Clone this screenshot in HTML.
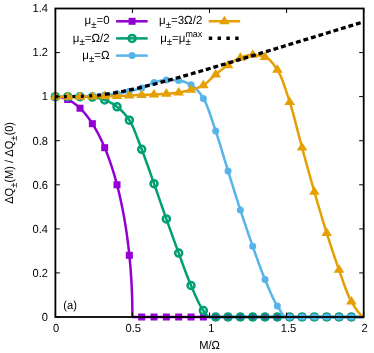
<!DOCTYPE html>
<html><head><meta charset="utf-8"><title>chart</title>
<style>html,body{margin:0;padding:0;background:#fff;}body{width:374px;height:353px;overflow:hidden;position:relative;font-family:"Liberation Sans",sans-serif;}</style></head>
<body>
<svg width="374" height="353" viewBox="0 0 374 353" style="position:absolute;left:0;top:0;will-change:transform;text-rendering:geometricPrecision">
<rect width="374" height="353" fill="#fff"/>
<g fill="none" stroke-linejoin="round" stroke-linecap="butt" stroke-width="2.50">
<path d="M55.35,96.64 L55.61,96.64 L55.87,96.65 L56.12,96.65 L56.38,96.66 L56.64,96.67 L56.90,96.69 L57.15,96.70 L57.41,96.72 L57.67,96.74 L57.93,96.77 L58.19,96.79 L58.44,96.82 L58.70,96.85 L58.96,96.88 L59.22,96.92 L59.48,96.96 L59.73,97.00 L59.99,97.04 L60.25,97.09 L60.51,97.14 L60.76,97.19 L61.02,97.24 L61.28,97.30 L61.54,97.35 L61.80,97.41 L62.05,97.48 L62.31,97.54 L62.57,97.61 L62.83,97.68 L63.08,97.75 L63.34,97.83 L63.60,97.91 L63.86,97.99 L64.12,98.07 L64.37,98.16 L64.63,98.25 L64.89,98.34 L65.15,98.43 L65.40,98.53 L65.66,98.62 L65.92,98.72 L66.18,98.83 L66.44,98.93 L66.69,99.04 L66.95,99.15 L67.21,99.27 L67.47,99.38 L67.73,99.50 L67.98,99.62 L68.24,99.75 L68.50,99.87 L68.76,100.00 L69.01,100.13 L69.27,100.27 L69.53,100.40 L69.79,100.54 L70.05,100.68 L70.30,100.83 L70.56,100.98 L70.82,101.13 L71.08,101.28 L71.33,101.43 L71.59,101.59 L71.85,101.75 L72.11,101.91 L72.37,102.08 L72.62,102.25 L72.88,102.42 L73.14,102.59 L73.40,102.77 L73.66,102.95 L73.91,103.13 L74.17,103.31 L74.43,103.50 L74.69,103.69 L74.94,103.88 L75.20,104.08 L75.46,104.27 L75.72,104.47 L75.98,104.68 L76.23,104.88 L76.49,105.09 L76.75,105.30 L77.01,105.52 L77.26,105.73 L77.52,105.95 L77.78,106.18 L78.04,106.40 L78.30,106.63 L78.55,106.86 L78.81,107.10 L79.07,107.33 L79.33,107.57 L79.58,107.82 L79.84,108.06 L80.10,108.31 L80.36,108.56 L80.62,108.82 L80.87,109.07 L81.13,109.33 L81.39,109.60 L81.65,109.86 L81.91,110.13 L82.16,110.40 L82.42,110.68 L82.68,110.95 L82.94,111.24 L83.19,111.52 L83.45,111.81 L83.71,112.10 L83.97,112.39 L84.23,112.69 L84.48,112.99 L84.74,113.29 L85.00,113.59 L85.26,113.90 L85.51,114.21 L85.77,114.53 L86.03,114.85 L86.29,115.17 L86.55,115.49 L86.80,115.82 L87.06,116.15 L87.32,116.49 L87.58,116.82 L87.84,117.16 L88.09,117.51 L88.35,117.86 L88.61,118.21 L88.87,118.56 L89.12,118.92 L89.38,119.28 L89.64,119.64 L89.90,120.01 L90.16,120.38 L90.41,120.76 L90.67,121.14 L90.93,121.52 L91.19,121.90 L91.44,122.29 L91.70,122.68 L91.96,123.08 L92.22,123.48 L92.48,123.88 L92.73,124.29 L92.99,124.70 L93.25,125.11 L93.51,125.53 L93.76,125.95 L94.02,126.38 L94.28,126.81 L94.54,127.24 L94.80,127.68 L95.05,128.12 L95.31,128.56 L95.57,129.01 L95.83,129.46 L96.09,129.92 L96.34,130.38 L96.60,130.85 L96.86,131.32 L97.12,131.79 L97.37,132.27 L97.63,132.75 L97.89,133.23 L98.15,133.72 L98.41,134.22 L98.66,134.72 L98.92,135.22 L99.18,135.73 L99.44,136.24 L99.69,136.75 L99.95,137.27 L100.21,137.80 L100.47,138.33 L100.73,138.86 L100.98,139.40 L101.24,139.95 L101.50,140.49 L101.76,141.05 L102.02,141.60 L102.27,142.17 L102.53,142.74 L102.79,143.31 L103.05,143.89 L103.30,144.47 L103.56,145.06 L103.82,145.65 L104.08,146.25 L104.34,146.85 L104.59,147.46 L104.85,148.08 L105.11,148.70 L105.37,149.32 L105.62,149.95 L105.88,150.59 L106.14,151.23 L106.40,151.88 L106.66,152.54 L106.91,153.20 L107.17,153.86 L107.43,154.53 L107.69,155.21 L107.94,155.90 L108.20,156.59 L108.46,157.29 L108.72,157.99 L108.98,158.70 L109.23,159.42 L109.49,160.14 L109.75,160.87 L110.01,161.61 L110.27,162.35 L110.52,163.11 L110.78,163.86 L111.04,164.63 L111.30,165.40 L111.55,166.19 L111.81,166.97 L112.07,167.77 L112.33,168.58 L112.59,169.39 L112.84,170.21 L113.10,171.04 L113.36,171.88 L113.62,172.72 L113.87,173.58 L114.13,174.44 L114.39,175.32 L114.65,176.20 L114.91,177.09 L115.16,177.99 L115.42,178.90 L115.68,179.82 L115.94,180.76 L116.19,181.70 L116.45,182.65 L116.71,183.61 L116.97,184.59 L117.23,185.58 L117.48,186.57 L117.74,187.58 L118.00,188.60 L118.26,189.64 L118.52,190.69 L118.77,191.75 L119.03,192.82 L119.29,193.91 L119.55,195.01 L119.80,196.12 L120.06,197.25 L120.32,198.40 L120.58,199.56 L120.84,200.74 L121.09,201.94 L121.35,203.15 L121.61,204.38 L121.87,205.63 L122.12,206.90 L122.38,208.18 L122.64,209.49 L122.90,210.82 L123.16,212.17 L123.41,213.55 L123.67,214.94 L123.93,216.37 L124.19,217.82 L124.45,219.29 L124.70,220.80 L124.96,222.33 L125.22,223.90 L125.48,225.49 L125.73,227.12 L125.99,228.79 L126.25,230.50 L126.51,232.25 L126.77,234.04 L127.02,235.88 L127.28,237.76 L127.54,239.70 L127.80,241.70 L128.05,243.76 L128.31,245.88 L128.57,248.08 L128.83,250.36 L129.09,252.73 L129.34,255.20 L129.60,257.78 L129.86,260.49 L130.12,263.34 L130.37,266.37 L130.63,269.60 L130.89,273.08 L131.15,276.87 L131.41,281.08 L131.66,285.86 L131.92,291.56 L132.18,298.99 L132.44,317.00 L363.70,317.00" stroke="#9400d3"/>
</g>
<rect x="51.85" y="93.14" width="7.00" height="7.00" fill="#9400d3"/><rect x="64.18" y="95.98" width="7.00" height="7.00" fill="#9400d3"/><rect x="76.52" y="104.73" width="7.00" height="7.00" fill="#9400d3"/><rect x="88.85" y="120.19" width="7.00" height="7.00" fill="#9400d3"/><rect x="101.19" y="144.18" width="7.00" height="7.00" fill="#9400d3"/><rect x="113.52" y="181.29" width="7.00" height="7.00" fill="#9400d3"/><rect x="125.85" y="251.80" width="7.00" height="7.00" fill="#9400d3"/><rect x="138.19" y="313.50" width="7.00" height="7.00" fill="#9400d3"/><rect x="150.52" y="313.50" width="7.00" height="7.00" fill="#9400d3"/><rect x="162.86" y="313.50" width="7.00" height="7.00" fill="#9400d3"/><rect x="175.19" y="313.50" width="7.00" height="7.00" fill="#9400d3"/><rect x="187.52" y="313.50" width="7.00" height="7.00" fill="#9400d3"/><rect x="199.86" y="313.50" width="7.00" height="7.00" fill="#9400d3"/><rect x="212.19" y="313.50" width="7.00" height="7.00" fill="#9400d3"/><rect x="224.53" y="313.50" width="7.00" height="7.00" fill="#9400d3"/><rect x="236.86" y="313.50" width="7.00" height="7.00" fill="#9400d3"/><rect x="249.19" y="313.50" width="7.00" height="7.00" fill="#9400d3"/><rect x="261.53" y="313.50" width="7.00" height="7.00" fill="#9400d3"/><rect x="273.86" y="313.50" width="7.00" height="7.00" fill="#9400d3"/><rect x="286.20" y="313.50" width="7.00" height="7.00" fill="#9400d3"/><rect x="298.53" y="313.50" width="7.00" height="7.00" fill="#9400d3"/><rect x="310.86" y="313.50" width="7.00" height="7.00" fill="#9400d3"/><rect x="323.20" y="313.50" width="7.00" height="7.00" fill="#9400d3"/><rect x="335.53" y="313.50" width="7.00" height="7.00" fill="#9400d3"/><rect x="347.87" y="313.50" width="7.00" height="7.00" fill="#9400d3"/>
<path d="M55.35,96.64 L56.12,96.64 L56.89,96.64 L57.66,96.64 L58.43,96.64 L59.20,96.64 L59.98,96.64 L60.75,96.64 L61.52,96.64 L62.29,96.64 L63.06,96.64 L63.83,96.64 L64.60,96.64 L65.37,96.64 L66.14,96.64 L66.91,96.64 L67.68,96.64 L68.45,96.64 L69.23,96.64 L70.00,96.64 L70.77,96.64 L71.54,96.64 L72.31,96.64 L73.08,96.64 L73.85,96.64 L74.62,96.64 L75.39,96.64 L76.16,96.64 L76.93,96.64 L77.71,96.64 L78.48,96.64 L79.25,96.64 L80.02,96.64 L80.79,96.65 L81.56,96.65 L82.33,96.66 L83.10,96.68 L83.87,96.69 L84.64,96.72 L85.41,96.74 L86.19,96.77 L86.96,96.80 L87.73,96.83 L88.50,96.87 L89.27,96.91 L90.04,96.95 L90.81,96.99 L91.58,97.04 L92.35,97.08 L93.12,97.14 L93.89,97.22 L94.66,97.33 L95.44,97.45 L96.21,97.59 L96.98,97.75 L97.75,97.92 L98.52,98.11 L99.29,98.31 L100.06,98.52 L100.83,98.74 L101.60,98.97 L102.37,99.21 L103.14,99.45 L103.92,99.70 L104.69,99.95 L105.46,100.21 L106.23,100.50 L107.00,100.82 L107.77,101.16 L108.54,101.52 L109.31,101.90 L110.08,102.31 L110.85,102.74 L111.62,103.18 L112.39,103.65 L113.17,104.13 L113.94,104.63 L114.71,105.14 L115.48,105.67 L116.25,106.22 L117.02,106.78 L117.79,107.36 L118.56,107.97 L119.33,108.62 L120.10,109.29 L120.87,110.00 L121.65,110.74 L122.42,111.52 L123.19,112.33 L123.96,113.18 L124.73,114.07 L125.50,115.00 L126.27,115.96 L127.04,116.96 L127.81,118.01 L128.58,119.09 L129.35,120.22 L130.12,121.44 L130.90,122.80 L131.67,124.28 L132.44,125.87 L133.21,127.57 L133.98,129.35 L134.75,131.20 L135.52,133.12 L136.29,135.09 L137.06,137.10 L137.83,139.14 L138.60,141.19 L139.38,143.25 L140.15,145.29 L140.92,147.32 L141.69,149.31 L142.46,151.30 L143.23,153.33 L144.00,155.39 L144.77,157.48 L145.54,159.60 L146.31,161.74 L147.08,163.90 L147.85,166.08 L148.63,168.28 L149.40,170.48 L150.17,172.68 L150.94,174.89 L151.71,177.10 L152.48,179.31 L153.25,181.50 L154.02,183.68 L154.79,185.87 L155.56,188.06 L156.33,190.26 L157.11,192.46 L157.88,194.67 L158.65,196.89 L159.42,199.11 L160.19,201.33 L160.96,203.55 L161.73,205.76 L162.50,207.98 L163.27,210.18 L164.04,212.39 L164.81,214.58 L165.59,216.77 L166.36,218.94 L167.13,221.11 L167.90,223.27 L168.67,225.44 L169.44,227.60 L170.21,229.76 L170.98,231.91 L171.75,234.06 L172.52,236.20 L173.29,238.34 L174.06,240.47 L174.84,242.59 L175.61,244.71 L176.38,246.82 L177.15,248.92 L177.92,251.01 L178.69,253.10 L179.46,255.18 L180.23,257.28 L181.00,259.39 L181.77,261.51 L182.54,263.62 L183.32,265.73 L184.09,267.83 L184.86,269.91 L185.63,271.98 L186.40,274.02 L187.17,276.03 L187.94,278.01 L188.71,279.95 L189.48,281.84 L190.25,283.69 L191.02,285.49 L191.79,287.27 L192.57,289.05 L193.34,290.84 L194.11,292.63 L194.88,294.40 L195.65,296.15 L196.42,297.86 L197.19,299.54 L197.96,301.18 L198.73,302.75 L199.50,304.27 L200.27,305.71 L201.05,307.08 L201.82,308.35 L202.59,309.53 L203.36,310.61 L204.13,311.67 L204.90,312.76 L205.67,313.83 L206.44,314.83 L207.21,315.70 L207.98,316.38 L208.75,316.84 L209.52,317.00 L210.30,317.00 L211.07,317.00 L211.84,317.00 L212.61,317.00 L213.38,317.00 L214.15,317.00 L214.92,317.00 L215.69,317.00 L216.46,317.00 L217.23,317.00 L218.00,317.00 L218.78,317.00 L219.55,317.00 L220.32,317.00 L221.09,317.00 L221.86,317.00 L222.63,317.00 L223.40,317.00 L224.17,317.00 L224.94,317.00 L225.71,317.00 L226.48,317.00 L227.26,317.00 L228.03,317.00 L228.80,317.00 L229.57,317.00 L230.34,317.00 L231.11,317.00 L231.88,317.00 L232.65,317.00 L233.42,317.00 L234.19,317.00 L234.96,317.00 L235.73,317.00 L236.51,317.00 L237.28,317.00 L238.05,317.00 L238.82,317.00 L239.59,317.00 L240.36,317.00 L241.13,317.00 L241.90,317.00 L242.67,317.00 L243.44,317.00 L244.21,317.00 L244.99,317.00 L245.76,317.00 L246.53,317.00 L247.30,317.00 L248.07,317.00 L248.84,317.00 L249.61,317.00 L250.38,317.00 L251.15,317.00 L251.92,317.00 L252.69,317.00 L253.46,317.00 L254.24,317.00 L255.01,317.00 L255.78,317.00 L256.55,317.00 L257.32,317.00 L258.09,317.00 L258.86,317.00 L259.63,317.00 L260.40,317.00 L261.17,317.00 L261.94,317.00 L262.72,317.00 L263.49,317.00 L264.26,317.00 L265.03,317.00 L265.80,317.00 L266.57,317.00 L267.34,317.00 L268.11,317.00 L268.88,317.00 L269.65,317.00 L270.42,317.00 L271.19,317.00 L271.97,317.00 L272.74,317.00 L273.51,317.00 L274.28,317.00 L275.05,317.00 L275.82,317.00 L276.59,317.00 L277.36,317.00 L278.13,317.00 L278.90,317.00 L279.67,317.00 L280.45,317.00 L281.22,317.00 L281.99,317.00 L282.76,317.00 L283.53,317.00 L284.30,317.00 L285.07,317.00 L285.84,317.00 L286.61,317.00 L287.38,317.00 L288.15,317.00 L288.93,317.00 L289.70,317.00 L290.47,317.00 L291.24,317.00 L292.01,317.00 L292.78,317.00 L293.55,317.00 L294.32,317.00 L295.09,317.00 L295.86,317.00 L296.63,317.00 L297.40,317.00 L298.18,317.00 L298.95,317.00 L299.72,317.00 L300.49,317.00 L301.26,317.00 L302.03,317.00 L302.80,317.00 L303.57,317.00 L304.34,317.00 L305.11,317.00 L305.88,317.00 L306.66,317.00 L307.43,317.00 L308.20,317.00 L308.97,317.00 L309.74,317.00 L310.51,317.00 L311.28,317.00 L312.05,317.00 L312.82,317.00 L313.59,317.00 L314.36,317.00 L315.13,317.00 L315.91,317.00 L316.68,317.00 L317.45,317.00 L318.22,317.00 L318.99,317.00 L319.76,317.00 L320.53,317.00 L321.30,317.00 L322.07,317.00 L322.84,317.00 L323.61,317.00 L324.39,317.00 L325.16,317.00 L325.93,317.00 L326.70,317.00 L327.47,317.00 L328.24,317.00 L329.01,317.00 L329.78,317.00 L330.55,317.00 L331.32,317.00 L332.09,317.00 L332.87,317.00 L333.64,317.00 L334.41,317.00 L335.18,317.00 L335.95,317.00 L336.72,317.00 L337.49,317.00 L338.26,317.00 L339.03,317.00 L339.80,317.00 L340.57,317.00 L341.34,317.00 L342.12,317.00 L342.89,317.00 L343.66,317.00 L344.43,317.00 L345.20,317.00 L345.97,317.00 L346.74,317.00 L347.51,317.00 L348.28,317.00 L349.05,317.00 L349.82,317.00 L350.60,317.00 L351.37,317.00 L352.14,317.00 L352.91,317.00 L353.68,317.00 L354.45,317.00 L355.22,317.00 L355.99,317.00 L356.76,317.00 L357.53,317.00 L358.30,317.00 L359.07,317.00 L359.85,317.00 L360.62,317.00 L361.39,317.00 L362.16,317.00 L362.93,317.00 L363.70,317.00" fill="none" stroke="#009e73" stroke-width="2.50" stroke-linejoin="round"/>
<circle cx="55.35" cy="96.64" r="3.50" fill="none" stroke="#009e73" stroke-width="2.5"/><circle cx="67.68" cy="96.64" r="3.50" fill="none" stroke="#009e73" stroke-width="2.5"/><circle cx="80.02" cy="96.64" r="3.50" fill="none" stroke="#009e73" stroke-width="2.5"/><circle cx="92.35" cy="97.08" r="3.50" fill="none" stroke="#009e73" stroke-width="2.5"/><circle cx="104.69" cy="99.95" r="3.50" fill="none" stroke="#009e73" stroke-width="2.5"/><circle cx="117.02" cy="106.78" r="3.50" fill="none" stroke="#009e73" stroke-width="2.5"/><circle cx="129.35" cy="120.22" r="3.50" fill="none" stroke="#009e73" stroke-width="2.5"/><circle cx="141.69" cy="149.31" r="3.50" fill="none" stroke="#009e73" stroke-width="2.5"/><circle cx="154.02" cy="183.68" r="3.50" fill="none" stroke="#009e73" stroke-width="2.5"/><circle cx="166.36" cy="218.94" r="3.50" fill="none" stroke="#009e73" stroke-width="2.5"/><circle cx="178.69" cy="253.10" r="3.50" fill="none" stroke="#009e73" stroke-width="2.5"/><circle cx="191.02" cy="285.49" r="3.50" fill="none" stroke="#009e73" stroke-width="2.5"/><circle cx="203.36" cy="310.61" r="3.50" fill="none" stroke="#009e73" stroke-width="2.5"/><circle cx="215.69" cy="317.00" r="3.50" fill="none" stroke="#009e73" stroke-width="2.5"/><circle cx="228.03" cy="317.00" r="3.50" fill="none" stroke="#009e73" stroke-width="2.5"/><circle cx="240.36" cy="317.00" r="3.50" fill="none" stroke="#009e73" stroke-width="2.5"/><circle cx="252.69" cy="317.00" r="3.50" fill="none" stroke="#009e73" stroke-width="2.5"/><circle cx="265.03" cy="317.00" r="3.50" fill="none" stroke="#009e73" stroke-width="2.5"/><circle cx="277.36" cy="317.00" r="3.50" fill="none" stroke="#009e73" stroke-width="2.5"/><circle cx="289.70" cy="317.00" r="3.50" fill="none" stroke="#009e73" stroke-width="2.5"/><circle cx="302.03" cy="317.00" r="3.50" fill="none" stroke="#009e73" stroke-width="2.5"/><circle cx="314.36" cy="317.00" r="3.50" fill="none" stroke="#009e73" stroke-width="2.5"/><circle cx="326.70" cy="317.00" r="3.50" fill="none" stroke="#009e73" stroke-width="2.5"/><circle cx="339.03" cy="317.00" r="3.50" fill="none" stroke="#009e73" stroke-width="2.5"/><circle cx="351.37" cy="317.00" r="3.50" fill="none" stroke="#009e73" stroke-width="2.5"/>
<path d="M55.35,96.64 L56.12,96.64 L56.89,96.64 L57.66,96.64 L58.43,96.64 L59.20,96.64 L59.98,96.64 L60.75,96.64 L61.52,96.64 L62.29,96.64 L63.06,96.64 L63.83,96.64 L64.60,96.64 L65.37,96.64 L66.14,96.64 L66.91,96.64 L67.68,96.64 L68.45,96.64 L69.23,96.64 L70.00,96.63 L70.77,96.61 L71.54,96.60 L72.31,96.58 L73.08,96.56 L73.85,96.54 L74.62,96.52 L75.39,96.49 L76.16,96.47 L76.93,96.45 L77.71,96.42 L78.48,96.40 L79.25,96.37 L80.02,96.35 L80.79,96.32 L81.56,96.30 L82.33,96.27 L83.10,96.25 L83.87,96.22 L84.64,96.19 L85.41,96.16 L86.19,96.13 L86.96,96.10 L87.73,96.07 L88.50,96.04 L89.27,96.00 L90.04,95.97 L90.81,95.93 L91.58,95.90 L92.35,95.86 L93.12,95.82 L93.89,95.78 L94.66,95.73 L95.44,95.68 L96.21,95.63 L96.98,95.58 L97.75,95.53 L98.52,95.48 L99.29,95.42 L100.06,95.36 L100.83,95.31 L101.60,95.25 L102.37,95.19 L103.14,95.12 L103.92,95.06 L104.69,95.00 L105.46,94.94 L106.23,94.87 L107.00,94.81 L107.77,94.74 L108.54,94.67 L109.31,94.60 L110.08,94.53 L110.85,94.46 L111.62,94.38 L112.39,94.30 L113.17,94.22 L113.94,94.14 L114.71,94.05 L115.48,93.96 L116.25,93.86 L117.02,93.76 L117.79,93.65 L118.56,93.54 L119.33,93.42 L120.10,93.29 L120.87,93.15 L121.65,93.01 L122.42,92.86 L123.19,92.71 L123.96,92.55 L124.73,92.38 L125.50,92.22 L126.27,92.05 L127.04,91.88 L127.81,91.70 L128.58,91.53 L129.35,91.35 L130.12,91.17 L130.90,90.98 L131.67,90.80 L132.44,90.60 L133.21,90.41 L133.98,90.20 L134.75,90.00 L135.52,89.79 L136.29,89.57 L137.06,89.35 L137.83,89.12 L138.60,88.88 L139.38,88.64 L140.15,88.40 L140.92,88.14 L141.69,87.88 L142.46,87.61 L143.23,87.30 L144.00,86.97 L144.77,86.62 L145.54,86.26 L146.31,85.89 L147.08,85.51 L147.85,85.13 L148.63,84.75 L149.40,84.38 L150.17,84.02 L150.94,83.68 L151.71,83.35 L152.48,83.05 L153.25,82.78 L154.02,82.54 L154.79,82.32 L155.56,82.09 L156.33,81.86 L157.11,81.63 L157.88,81.40 L158.65,81.19 L159.42,80.97 L160.19,80.78 L160.96,80.59 L161.73,80.42 L162.50,80.27 L163.27,80.14 L164.04,80.04 L164.81,79.96 L165.59,79.91 L166.36,79.90 L167.13,79.90 L167.90,79.91 L168.67,79.92 L169.44,79.95 L170.21,79.97 L170.98,80.00 L171.75,80.04 L172.52,80.08 L173.29,80.13 L174.06,80.18 L174.84,80.23 L175.61,80.29 L176.38,80.35 L177.15,80.42 L177.92,80.49 L178.69,80.56 L179.46,80.64 L180.23,80.76 L181.00,80.90 L181.77,81.07 L182.54,81.27 L183.32,81.49 L184.09,81.73 L184.86,81.99 L185.63,82.28 L186.40,82.58 L187.17,82.90 L187.94,83.24 L188.71,83.60 L189.48,83.97 L190.25,84.35 L191.02,84.74 L191.79,85.18 L192.57,85.68 L193.34,86.25 L194.11,86.88 L194.88,87.57 L195.65,88.31 L196.42,89.11 L197.19,89.97 L197.96,90.87 L198.73,91.83 L199.50,92.82 L200.27,93.86 L201.05,94.94 L201.82,96.06 L202.59,97.22 L203.36,98.41 L204.13,99.70 L204.90,101.16 L205.67,102.77 L206.44,104.53 L207.21,106.40 L207.98,108.39 L208.75,110.47 L209.52,112.63 L210.30,114.86 L211.07,117.14 L211.84,119.45 L212.61,121.78 L213.38,124.12 L214.15,126.45 L214.92,128.75 L215.69,131.02 L216.46,133.29 L217.23,135.63 L218.00,138.01 L218.78,140.45 L219.55,142.92 L220.32,145.43 L221.09,147.96 L221.86,150.52 L222.63,153.08 L223.40,155.66 L224.17,158.24 L224.94,160.81 L225.71,163.37 L226.48,165.91 L227.26,168.42 L228.03,170.90 L228.80,173.37 L229.57,175.84 L230.34,178.31 L231.11,180.78 L231.88,183.25 L232.65,185.71 L233.42,188.17 L234.19,190.63 L234.96,193.08 L235.73,195.52 L236.51,197.95 L237.28,200.37 L238.05,202.78 L238.82,205.17 L239.59,207.55 L240.36,209.91 L241.13,212.25 L241.90,214.60 L242.67,216.93 L243.44,219.25 L244.21,221.57 L244.99,223.87 L245.76,226.16 L246.53,228.45 L247.30,230.72 L248.07,232.98 L248.84,235.23 L249.61,237.46 L250.38,239.68 L251.15,241.89 L251.92,244.09 L252.69,246.27 L253.46,248.44 L254.24,250.62 L255.01,252.80 L255.78,254.97 L256.55,257.14 L257.32,259.29 L258.09,261.44 L258.86,263.56 L259.63,265.67 L260.40,267.75 L261.17,269.80 L261.94,271.83 L262.72,273.81 L263.49,275.76 L264.26,277.67 L265.03,279.54 L265.80,281.39 L266.57,283.24 L267.34,285.09 L268.11,286.94 L268.88,288.77 L269.65,290.58 L270.42,292.37 L271.19,294.11 L271.97,295.82 L272.74,297.48 L273.51,299.08 L274.28,300.61 L275.05,302.08 L275.82,303.47 L276.59,304.77 L277.36,305.98 L278.13,307.18 L278.90,308.42 L279.67,309.67 L280.45,310.91 L281.22,312.11 L281.99,313.24 L282.76,314.27 L283.53,315.18 L284.30,315.93 L285.07,316.51 L285.84,316.87 L286.61,317.00 L287.38,317.00 L288.15,317.00 L288.93,317.00 L289.70,317.00 L290.47,317.00 L291.24,317.00 L292.01,317.00 L292.78,317.00 L293.55,317.00 L294.32,317.00 L295.09,317.00 L295.86,317.00 L296.63,317.00 L297.40,317.00 L298.18,317.00 L298.95,317.00 L299.72,317.00 L300.49,317.00 L301.26,317.00 L302.03,317.00 L302.80,317.00 L303.57,317.00 L304.34,317.00 L305.11,317.00 L305.88,317.00 L306.66,317.00 L307.43,317.00 L308.20,317.00 L308.97,317.00 L309.74,317.00 L310.51,317.00 L311.28,317.00 L312.05,317.00 L312.82,317.00 L313.59,317.00 L314.36,317.00 L315.13,317.00 L315.91,317.00 L316.68,317.00 L317.45,317.00 L318.22,317.00 L318.99,317.00 L319.76,317.00 L320.53,317.00 L321.30,317.00 L322.07,317.00 L322.84,317.00 L323.61,317.00 L324.39,317.00 L325.16,317.00 L325.93,317.00 L326.70,317.00 L327.47,317.00 L328.24,317.00 L329.01,317.00 L329.78,317.00 L330.55,317.00 L331.32,317.00 L332.09,317.00 L332.87,317.00 L333.64,317.00 L334.41,317.00 L335.18,317.00 L335.95,317.00 L336.72,317.00 L337.49,317.00 L338.26,317.00 L339.03,317.00 L339.80,317.00 L340.57,317.00 L341.34,317.00 L342.12,317.00 L342.89,317.00 L343.66,317.00 L344.43,317.00 L345.20,317.00 L345.97,317.00 L346.74,317.00 L347.51,317.00 L348.28,317.00 L349.05,317.00 L349.82,317.00 L350.60,317.00 L351.37,317.00 L352.14,317.00 L352.91,317.00 L353.68,317.00 L354.45,317.00 L355.22,317.00 L355.99,317.00 L356.76,317.00 L357.53,317.00 L358.30,317.00 L359.07,317.00 L359.85,317.00 L360.62,317.00 L361.39,317.00 L362.16,317.00 L362.93,317.00 L363.70,317.00" fill="none" stroke="#56b4e9" stroke-width="2.50" stroke-linejoin="round"/>
<circle cx="55.35" cy="96.64" r="3.50" fill="#56b4e9"/><circle cx="67.68" cy="96.64" r="3.50" fill="#56b4e9"/><circle cx="80.02" cy="96.35" r="3.50" fill="#56b4e9"/><circle cx="92.35" cy="95.86" r="3.50" fill="#56b4e9"/><circle cx="104.69" cy="95.00" r="3.50" fill="#56b4e9"/><circle cx="117.02" cy="93.76" r="3.50" fill="#56b4e9"/><circle cx="129.35" cy="91.35" r="3.50" fill="#56b4e9"/><circle cx="141.69" cy="87.88" r="3.50" fill="#56b4e9"/><circle cx="154.02" cy="82.54" r="3.50" fill="#56b4e9"/><circle cx="166.36" cy="79.90" r="3.50" fill="#56b4e9"/><circle cx="178.69" cy="80.56" r="3.50" fill="#56b4e9"/><circle cx="191.02" cy="84.74" r="3.50" fill="#56b4e9"/><circle cx="203.36" cy="98.41" r="3.50" fill="#56b4e9"/><circle cx="215.69" cy="131.02" r="3.50" fill="#56b4e9"/><circle cx="228.03" cy="170.90" r="3.50" fill="#56b4e9"/><circle cx="240.36" cy="209.91" r="3.50" fill="#56b4e9"/><circle cx="252.69" cy="246.27" r="3.50" fill="#56b4e9"/><circle cx="265.03" cy="279.54" r="3.50" fill="#56b4e9"/><circle cx="277.36" cy="305.98" r="3.50" fill="#56b4e9"/><circle cx="289.70" cy="317.00" r="3.50" fill="#56b4e9"/><circle cx="302.03" cy="317.00" r="3.50" fill="#56b4e9"/><circle cx="314.36" cy="317.00" r="3.50" fill="#56b4e9"/><circle cx="326.70" cy="317.00" r="3.50" fill="#56b4e9"/><circle cx="339.03" cy="317.00" r="3.50" fill="#56b4e9"/><circle cx="351.37" cy="317.00" r="3.50" fill="#56b4e9"/>
<path d="M55.35,96.64 L56.12,96.64 L56.89,96.64 L57.66,96.64 L58.43,96.64 L59.20,96.64 L59.98,96.64 L60.75,96.64 L61.52,96.64 L62.29,96.64 L63.06,96.64 L63.83,96.64 L64.60,96.64 L65.37,96.64 L66.14,96.64 L66.91,96.64 L67.68,96.64 L68.45,96.64 L69.23,96.64 L70.00,96.64 L70.77,96.64 L71.54,96.64 L72.31,96.64 L73.08,96.64 L73.85,96.64 L74.62,96.64 L75.39,96.64 L76.16,96.64 L76.93,96.64 L77.71,96.64 L78.48,96.64 L79.25,96.64 L80.02,96.64 L80.79,96.64 L81.56,96.64 L82.33,96.64 L83.10,96.63 L83.87,96.63 L84.64,96.62 L85.41,96.61 L86.19,96.61 L86.96,96.60 L87.73,96.59 L88.50,96.58 L89.27,96.57 L90.04,96.56 L90.81,96.55 L91.58,96.54 L92.35,96.53 L93.12,96.52 L93.89,96.51 L94.66,96.50 L95.44,96.49 L96.21,96.48 L96.98,96.46 L97.75,96.45 L98.52,96.44 L99.29,96.42 L100.06,96.41 L100.83,96.39 L101.60,96.38 L102.37,96.36 L103.14,96.35 L103.92,96.33 L104.69,96.31 L105.46,96.30 L106.23,96.28 L107.00,96.26 L107.77,96.24 L108.54,96.22 L109.31,96.20 L110.08,96.18 L110.85,96.16 L111.62,96.14 L112.39,96.12 L113.17,96.10 L113.94,96.07 L114.71,96.05 L115.48,96.03 L116.25,96.01 L117.02,95.98 L117.79,95.96 L118.56,95.93 L119.33,95.91 L120.10,95.88 L120.87,95.86 L121.65,95.83 L122.42,95.81 L123.19,95.78 L123.96,95.75 L124.73,95.72 L125.50,95.70 L126.27,95.67 L127.04,95.64 L127.81,95.61 L128.58,95.57 L129.35,95.54 L130.12,95.51 L130.90,95.47 L131.67,95.43 L132.44,95.39 L133.21,95.35 L133.98,95.30 L134.75,95.26 L135.52,95.21 L136.29,95.17 L137.06,95.12 L137.83,95.08 L138.60,95.03 L139.38,94.99 L140.15,94.95 L140.92,94.91 L141.69,94.88 L142.46,94.85 L143.23,94.82 L144.00,94.79 L144.77,94.76 L145.54,94.74 L146.31,94.71 L147.08,94.68 L147.85,94.66 L148.63,94.63 L149.40,94.61 L150.17,94.58 L150.94,94.56 L151.71,94.53 L152.48,94.50 L153.25,94.47 L154.02,94.44 L154.79,94.41 L155.56,94.37 L156.33,94.34 L157.11,94.30 L157.88,94.27 L158.65,94.23 L159.42,94.19 L160.19,94.15 L160.96,94.11 L161.73,94.07 L162.50,94.03 L163.27,93.98 L164.04,93.93 L164.81,93.88 L165.59,93.83 L166.36,93.78 L167.13,93.72 L167.90,93.66 L168.67,93.60 L169.44,93.53 L170.21,93.46 L170.98,93.39 L171.75,93.31 L172.52,93.23 L173.29,93.14 L174.06,93.06 L174.84,92.96 L175.61,92.87 L176.38,92.77 L177.15,92.67 L177.92,92.56 L178.69,92.46 L179.46,92.34 L180.23,92.22 L181.00,92.09 L181.77,91.95 L182.54,91.81 L183.32,91.66 L184.09,91.50 L184.86,91.33 L185.63,91.16 L186.40,90.99 L187.17,90.80 L187.94,90.62 L188.71,90.42 L189.48,90.22 L190.25,90.02 L191.02,89.81 L191.79,89.60 L192.57,89.38 L193.34,89.15 L194.11,88.92 L194.88,88.68 L195.65,88.42 L196.42,88.16 L197.19,87.89 L197.96,87.60 L198.73,87.30 L199.50,86.99 L200.27,86.66 L201.05,86.32 L201.82,85.96 L202.59,85.58 L203.36,85.18 L204.13,84.74 L204.90,84.24 L205.67,83.67 L206.44,83.05 L207.21,82.39 L207.98,81.69 L208.75,80.97 L209.52,80.22 L210.30,79.46 L211.07,78.69 L211.84,77.93 L212.61,77.17 L213.38,76.43 L214.15,75.72 L214.92,75.03 L215.69,74.39 L216.46,73.77 L217.23,73.15 L218.00,72.53 L218.78,71.92 L219.55,71.31 L220.32,70.71 L221.09,70.12 L221.86,69.53 L222.63,68.95 L223.40,68.38 L224.17,67.81 L224.94,67.26 L225.71,66.71 L226.48,66.17 L227.26,65.65 L228.03,65.13 L228.80,64.62 L229.57,64.10 L230.34,63.58 L231.11,63.05 L231.88,62.53 L232.65,62.02 L233.42,61.51 L234.19,61.02 L234.96,60.54 L235.73,60.08 L236.51,59.64 L237.28,59.22 L238.05,58.83 L238.82,58.48 L239.59,58.15 L240.36,57.86 L241.13,57.59 L241.90,57.31 L242.67,57.04 L243.44,56.77 L244.21,56.50 L244.99,56.25 L245.76,56.01 L246.53,55.78 L247.30,55.56 L248.07,55.37 L248.84,55.20 L249.61,55.05 L250.38,54.94 L251.15,54.85 L251.92,54.79 L252.69,54.78 L253.46,54.79 L254.24,54.82 L255.01,54.87 L255.78,54.94 L256.55,55.03 L257.32,55.14 L258.09,55.27 L258.86,55.41 L259.63,55.56 L260.40,55.73 L261.17,55.91 L261.94,56.11 L262.72,56.31 L263.49,56.52 L264.26,56.75 L265.03,56.98 L265.80,57.26 L266.57,57.64 L267.34,58.10 L268.11,58.65 L268.88,59.27 L269.65,59.97 L270.42,60.73 L271.19,61.55 L271.97,62.43 L272.74,63.37 L273.51,64.35 L274.28,65.37 L275.05,66.42 L275.82,67.51 L276.59,68.62 L277.36,69.76 L278.13,70.99 L278.90,72.38 L279.67,73.91 L280.45,75.59 L281.22,77.39 L281.99,79.30 L282.76,81.31 L283.53,83.42 L284.30,85.59 L285.07,87.83 L285.84,90.12 L286.61,92.46 L287.38,94.81 L288.15,97.19 L288.93,99.56 L289.70,101.93 L290.47,104.35 L291.24,106.89 L292.01,109.53 L292.78,112.26 L293.55,115.07 L294.32,117.94 L295.09,120.87 L295.86,123.84 L296.63,126.83 L297.40,129.85 L298.18,132.86 L298.95,135.87 L299.72,138.85 L300.49,141.80 L301.26,144.70 L302.03,147.55 L302.80,150.36 L303.57,153.17 L304.34,155.98 L305.11,158.78 L305.88,161.59 L306.66,164.39 L307.43,167.19 L308.20,169.97 L308.97,172.75 L309.74,175.52 L310.51,178.28 L311.28,181.02 L312.05,183.75 L312.82,186.46 L313.59,189.16 L314.36,191.84 L315.13,194.50 L315.91,197.16 L316.68,199.81 L317.45,202.46 L318.22,205.09 L318.99,207.71 L319.76,210.32 L320.53,212.92 L321.30,215.50 L322.07,218.06 L322.84,220.61 L323.61,223.14 L324.39,225.65 L325.16,228.14 L325.93,230.60 L326.70,233.04 L327.47,235.47 L328.24,237.88 L329.01,240.28 L329.78,242.66 L330.55,245.03 L331.32,247.39 L332.09,249.72 L332.87,252.04 L333.64,254.34 L334.41,256.63 L335.18,258.89 L335.95,261.12 L336.72,263.34 L337.49,265.53 L338.26,267.70 L339.03,269.84 L339.80,272.00 L340.57,274.18 L341.34,276.40 L342.12,278.62 L342.89,280.84 L343.66,283.05 L344.43,285.23 L345.20,287.37 L345.97,289.46 L346.74,291.49 L347.51,293.44 L348.28,295.30 L349.05,297.05 L349.82,298.69 L350.60,300.20 L351.37,301.57 L352.14,302.86 L352.91,304.13 L353.68,305.36 L354.45,306.56 L355.22,307.73 L355.99,308.86 L356.76,309.94 L357.53,310.97 L358.30,311.95 L359.07,312.88 L359.85,313.74 L360.62,314.54 L361.39,315.27 L362.16,315.93 L362.93,316.50 L363.70,317.00" fill="none" stroke="#e69f00" stroke-width="2.50" stroke-linejoin="round"/>
<path d="M55.35,91.14 L60.65,99.64 L50.05,99.64 Z" fill="#e69f00"/><path d="M67.68,91.14 L72.98,99.64 L62.38,99.64 Z" fill="#e69f00"/><path d="M80.02,91.14 L85.32,99.64 L74.72,99.64 Z" fill="#e69f00"/><path d="M92.35,91.03 L97.65,99.53 L87.05,99.53 Z" fill="#e69f00"/><path d="M104.69,90.81 L109.99,99.31 L99.39,99.31 Z" fill="#e69f00"/><path d="M117.02,90.48 L122.32,98.98 L111.72,98.98 Z" fill="#e69f00"/><path d="M129.35,90.04 L134.65,98.54 L124.05,98.54 Z" fill="#e69f00"/><path d="M141.69,89.38 L146.99,97.88 L136.39,97.88 Z" fill="#e69f00"/><path d="M154.02,88.94 L159.32,97.44 L148.72,97.44 Z" fill="#e69f00"/><path d="M166.36,88.28 L171.66,96.78 L161.06,96.78 Z" fill="#e69f00"/><path d="M178.69,86.96 L183.99,95.46 L173.39,95.46 Z" fill="#e69f00"/><path d="M191.02,84.31 L196.32,92.81 L185.72,92.81 Z" fill="#e69f00"/><path d="M203.36,79.68 L208.66,88.18 L198.06,88.18 Z" fill="#e69f00"/><path d="M215.69,68.89 L220.99,77.39 L210.39,77.39 Z" fill="#e69f00"/><path d="M228.03,59.63 L233.33,68.13 L222.73,68.13 Z" fill="#e69f00"/><path d="M240.36,52.36 L245.66,60.86 L235.06,60.86 Z" fill="#e69f00"/><path d="M252.69,49.28 L257.99,57.78 L247.39,57.78 Z" fill="#e69f00"/><path d="M265.03,51.48 L270.33,59.98 L259.73,59.98 Z" fill="#e69f00"/><path d="M277.36,64.26 L282.66,72.76 L272.06,72.76 Z" fill="#e69f00"/><path d="M289.70,96.43 L295.00,104.93 L284.40,104.93 Z" fill="#e69f00"/><path d="M302.03,142.05 L307.33,150.55 L296.73,150.55 Z" fill="#e69f00"/><path d="M314.36,186.34 L319.66,194.84 L309.06,194.84 Z" fill="#e69f00"/><path d="M326.70,227.54 L332.00,236.04 L321.40,236.04 Z" fill="#e69f00"/><path d="M339.03,264.34 L344.33,272.84 L333.73,272.84 Z" fill="#e69f00"/><path d="M351.37,296.07 L356.67,304.57 L346.07,304.57 Z" fill="#e69f00"/>
<path d="M55.40,96.64 L55.98,96.64 L56.56,96.64 L57.14,96.64 L57.72,96.64 L58.30,96.64 M63.94,96.63 L64.52,96.63 L65.10,96.63 L65.68,96.62 L66.26,96.62 L66.84,96.61 M72.45,96.55 L73.03,96.54 L73.61,96.53 L74.19,96.51 L74.77,96.50 L75.35,96.49 M80.90,96.31 L81.48,96.29 L82.06,96.27 L82.64,96.24 L83.22,96.21 L83.80,96.19 M89.30,95.86 L89.88,95.82 L90.46,95.78 L91.04,95.74 L91.61,95.70 L92.19,95.65 M97.13,95.21 L97.91,95.13 L98.68,95.05 L99.46,94.96 L100.24,94.88 L101.02,94.79 M104.89,94.31 L105.87,94.18 L106.84,94.05 L107.81,93.91 L108.78,93.77 L109.75,93.63 M113.07,93.11 L114.04,92.95 L115.00,92.79 L115.97,92.62 L116.93,92.45 L117.90,92.28 M121.16,91.68 L122.12,91.50 L123.08,91.31 L124.05,91.12 L125.01,90.93 L125.97,90.73 M129.17,90.07 L130.13,89.86 L131.08,89.65 L132.04,89.44 L133.00,89.23 L133.96,89.02 M137.10,88.30 L138.05,88.08 L139.01,87.86 L139.96,87.63 L140.91,87.41 L141.87,87.18 M144.95,86.43 L145.90,86.19 L146.86,85.96 L147.81,85.72 L148.76,85.48 L149.71,85.24 M152.74,84.47 L153.69,84.23 L154.64,83.98 L155.59,83.73 L156.54,83.49 L157.48,83.24 M160.47,82.45 L161.41,82.19 L162.36,81.94 L163.31,81.69 L164.25,81.43 L165.20,81.18 M168.13,80.38 L169.08,80.12 L170.02,79.86 L170.97,79.60 L171.91,79.34 L172.86,79.08 M175.74,78.27 L176.69,78.01 L177.63,77.75 L178.57,77.48 L179.52,77.22 L180.46,76.95 M183.30,76.15 L184.24,75.88 L185.18,75.61 L186.13,75.34 L187.07,75.07 L188.01,74.80 M190.84,73.99 L191.78,73.72 L192.72,73.45 L193.66,73.18 L194.60,72.91 L195.54,72.63 M198.37,71.81 L199.31,71.54 L200.25,71.27 L201.19,70.99 L202.13,70.72 L203.07,70.44 M205.89,69.62 L206.83,69.34 L207.78,69.07 L208.72,68.79 L209.66,68.51 L210.60,68.24 M213.42,67.41 L214.36,67.13 L215.30,66.85 L216.24,66.57 L217.17,66.29 L218.11,66.02 M220.93,65.18 L221.87,64.90 L222.81,64.62 L223.75,64.34 L224.69,64.06 L225.63,63.78 M228.45,62.94 L229.39,62.66 L230.33,62.38 L231.26,62.10 L232.20,61.82 L233.14,61.54 M235.96,60.70 L236.90,60.41 L237.84,60.13 L238.77,59.85 L239.71,59.57 L240.65,59.29 M243.47,58.44 L244.41,58.16 L245.34,57.88 L246.28,57.59 L247.22,57.31 L248.16,57.03 M250.97,56.18 L251.91,55.90 L252.85,55.61 L253.79,55.33 L254.73,55.05 L255.67,54.76 M258.48,53.91 L259.42,53.63 L260.36,53.35 L261.29,53.06 L262.23,52.78 L263.17,52.50 M265.98,51.64 L266.92,51.36 L267.86,51.07 L268.80,50.79 L269.73,50.51 L270.67,50.22 M273.49,49.37 L274.42,49.08 L275.36,48.80 L276.30,48.51 L277.24,48.23 L278.17,47.94 M280.99,47.09 L281.92,46.80 L282.86,46.52 L283.80,46.23 L284.74,45.95 L285.67,45.66 M288.49,44.80 L289.42,44.52 L290.36,44.23 L291.30,43.95 L292.24,43.66 L293.17,43.38 M295.99,42.52 L296.92,42.23 L297.86,41.95 L298.80,41.66 L299.74,41.37 L300.67,41.09 M303.49,40.23 L304.42,39.94 L305.36,39.66 L306.30,39.37 L307.23,39.08 L308.17,38.80 M310.98,37.94 L311.92,37.65 L312.86,37.37 L313.79,37.08 L314.73,36.79 L315.67,36.51 M318.48,35.65 L319.42,35.36 L320.35,35.07 L321.29,34.79 L322.23,34.50 L323.17,34.21 M325.98,33.35 L326.91,33.07 L327.85,32.78 L328.79,32.49 L329.73,32.20 L330.66,31.92 M333.47,31.06 L334.41,30.77 L335.35,30.48 L336.28,30.20 L337.22,29.91 L338.16,29.62 M340.97,28.76 L341.91,28.47 L342.84,28.18 L343.78,27.90 L344.72,27.61 L345.65,27.32 M348.46,26.46 L349.40,26.17 L350.34,25.89 L351.28,25.60 L352.21,25.31 L353.15,25.02 M355.96,24.16 L356.90,23.87 L357.83,23.59 L358.77,23.30 L359.71,23.01 L360.64,22.72" fill="none" stroke="#000" stroke-width="3.30"/>
<path d="M116.1,21.3 H147.7" stroke="#9400d3" stroke-width="2.50"/>
<path d="M116.1,38.4 H147.7" stroke="#009e73" stroke-width="2.50"/>
<path d="M116.1,55.6 H147.7" stroke="#56b4e9" stroke-width="2.50"/>
<rect x="128.60" y="17.80" width="7.00" height="7.00" fill="#9400d3"/>
<circle cx="132.10" cy="38.40" r="3.50" fill="none" stroke="#009e73" stroke-width="2.5"/>
<circle cx="132.10" cy="55.60" r="3.50" fill="#56b4e9"/>
<path d="M208.7,21.3 H240.2" stroke="#e69f00" stroke-width="2.50"/>
<path d="M224.40,15.80 L229.70,24.30 L219.10,24.30 Z" fill="#e69f00"/>
<path d="M208.8,38.3 H240.2" stroke="#000" stroke-width="3.4" stroke-dasharray="3.4 5.4"/>
<g stroke="#000" stroke-width="1.8" fill="none" stroke-linecap="square">
<rect x="55.4" y="8.5" width="308.3" height="308.5"/>
</g>
<g stroke="#000" stroke-width="1.0" fill="none">
<path d="M55.4,317.0 h4.5 M363.7,317.0 h-4.5"/>
<path d="M55.4,272.9 h4.5 M363.7,272.9 h-4.5"/>
<path d="M55.4,228.9 h4.5 M363.7,228.9 h-4.5"/>
<path d="M55.4,184.8 h4.5 M363.7,184.8 h-4.5"/>
<path d="M55.4,140.7 h4.5 M363.7,140.7 h-4.5"/>
<path d="M55.4,96.6 h4.5 M363.7,96.6 h-4.5"/>
<path d="M55.4,52.6 h4.5 M363.7,52.6 h-4.5"/>
<path d="M55.4,8.5 h4.5 M363.7,8.5 h-4.5"/>
<path d="M55.4,317.0 v-4.5 M55.4,8.5 v4.5"/>
<path d="M132.4,317.0 v-4.5 M132.4,8.5 v4.5"/>
<path d="M209.5,317.0 v-4.5 M209.5,8.5 v4.5"/>
<path d="M286.6,317.0 v-4.5 M286.6,8.5 v4.5"/>
<path d="M363.7,317.0 v-4.5 M363.7,8.5 v4.5"/>
</g>
<g font-family="'Liberation Sans', sans-serif" font-size="11.70px" fill="#000">
<text transform="translate(47.90,320.80) scale(0.950,1)" text-anchor="end">0</text>
<text transform="translate(47.90,276.73) scale(0.950,1)" text-anchor="end">0.2</text>
<text transform="translate(47.90,232.66) scale(0.950,1)" text-anchor="end">0.4</text>
<text transform="translate(47.90,188.59) scale(0.950,1)" text-anchor="end">0.6</text>
<text transform="translate(47.90,144.51) scale(0.950,1)" text-anchor="end">0.8</text>
<text transform="translate(47.90,100.44) scale(0.950,1)" text-anchor="end">1</text>
<text transform="translate(47.90,56.37) scale(0.950,1)" text-anchor="end">1.2</text>
<text transform="translate(47.90,12.30) scale(0.950,1)" text-anchor="end">1.4</text>
<text transform="translate(56.05,331.80) scale(0.950,1)" text-anchor="middle">0</text>
<text transform="translate(133.24,331.80) scale(0.950,1)" text-anchor="middle">0.5</text>
<text transform="translate(211.22,331.80) scale(0.950,1)" text-anchor="middle">1</text>
<text transform="translate(288.51,331.80) scale(0.950,1)" text-anchor="middle">1.5</text>
<text transform="translate(364.70,331.80) scale(0.950,1)" text-anchor="middle">2</text>
<text transform="translate(209.50,348.80) scale(0.950,1)" text-anchor="middle">M/&#937;</text>
<text transform="translate(63.30,308.70) scale(0.950,1)" text-anchor="start">(a)</text>
<text transform="translate(13.20,162.90) rotate(-90) scale(0.950,1)" text-anchor="middle">&#916;Q<tspan dy="3.3" font-size="9.8px">&#177;</tspan><tspan dy="-3.3">(M) / &#916;Q</tspan><tspan dy="3.3" font-size="9.8px">&#177;</tspan><tspan dy="-3.3">(0)</tspan></text>
<text transform="translate(109.60,24.40) scale(0.984,1)" text-anchor="end">&#956;<tspan dy="3.3" font-size="9.8px">&#177;</tspan><tspan dy="-3.3">=0</tspan></text>
<text transform="translate(109.60,41.50) scale(0.984,1)" text-anchor="end">&#956;<tspan dy="3.3" font-size="9.8px">&#177;</tspan><tspan dy="-3.3">=&#937;/2</tspan></text>
<text transform="translate(109.60,58.70) scale(0.984,1)" text-anchor="end">&#956;<tspan dy="3.3" font-size="9.8px">&#177;</tspan><tspan dy="-3.3">=&#937;</tspan></text>
<text transform="translate(202.30,24.40) scale(0.984,1)" text-anchor="end">&#956;<tspan dy="3.3" font-size="9.8px">&#177;</tspan><tspan dy="-3.3">=3&#937;/2</tspan></text>
<text transform="translate(202.30,42.10) scale(0.984,1)" text-anchor="end">&#956;<tspan dy="3.3" font-size="9.8px">&#177;</tspan><tspan dy="-3.3">=&#956;</tspan><tspan dy="3.3" font-size="9.8px">&#177;</tspan><tspan dy="-8.6" dx="-5.4" font-size="9.1px">max</tspan></text>
</g>
</svg>
</body></html>
